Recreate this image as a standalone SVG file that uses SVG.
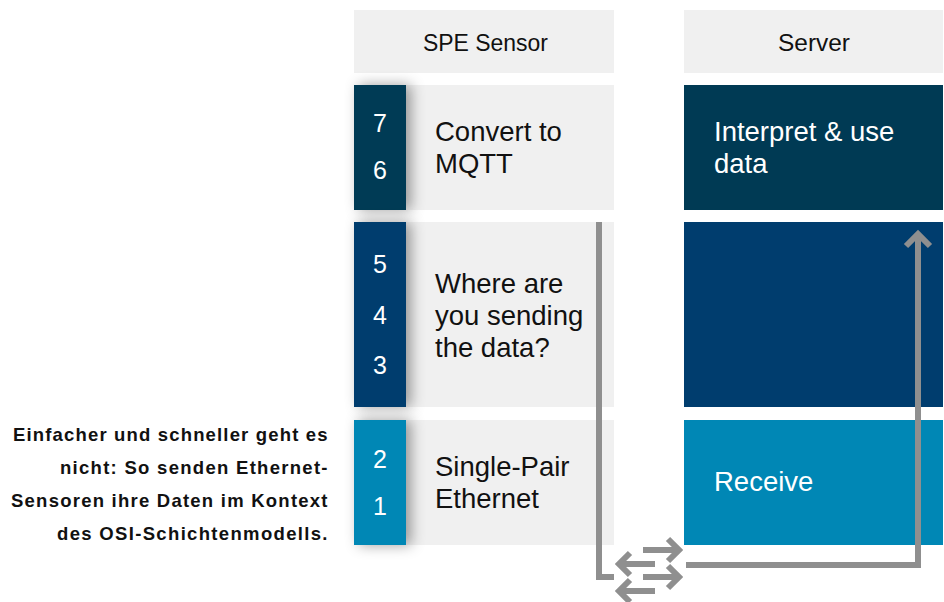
<svg xmlns="http://www.w3.org/2000/svg" width="944" height="602" viewBox="0 0 944 602">
<defs>
<filter id="sh" x="-60%" y="-25%" width="240%" height="150%"><feDropShadow dx="5" dy="0" stdDeviation="7" flood-color="#000" flood-opacity="0.38"/></filter>
</defs>
<style>
text{font-family:"Liberation Sans",Arial,sans-serif;}
.t{font-size:27.5px;fill:#111}
.w{font-size:27.5px;fill:#fff}
.h{font-size:24px;fill:#111;text-anchor:middle}
.n{font-size:25px;fill:#fff;text-anchor:middle}
.c{font-size:18.5px;font-weight:700;fill:#111;text-anchor:end}
.g{fill:#f0f0f0}
.a{fill:none;stroke:#8f8f8f;stroke-width:6}
</style>
<g id="caption">
<text class="c" x="327.500" y="441" textLength="314.500">Einfacher und schneller geht es</text>
<text class="c" x="327.500" y="474" textLength="267.500">nicht: So senden Ethernet-</text>
<text class="c" x="327.500" y="507" textLength="316.500">Sensoren ihre Daten im Kontext</text>
<text class="c" x="327.500" y="540" textLength="270.500">des OSI-Schichtenmodells.</text>
</g>
<g id="header-sensor"><rect class="g" x="354" y="10" width="260" height="63"/><text class="h" x="485.500" y="51" textLength="125" lengthAdjust="spacingAndGlyphs">SPE Sensor</text></g>
<g id="header-server"><rect class="g" x="684" y="10" width="259" height="63"/><text class="h" x="814" y="51" textLength="72" lengthAdjust="spacingAndGlyphs">Server</text></g>
<g id="sensor-76"><rect class="g" x="354" y="85" width="260" height="125"/><rect x="354" y="85" width="52" height="125" fill="#003a54" filter="url(#sh)"/>
<text class="n" x="380" y="132">7</text><text class="n" x="380" y="179">6</text>
<text class="t" x="435" y="141">Convert to</text><text class="t" x="435" y="173">MQTT</text></g>
<g id="sensor-543"><rect class="g" x="354" y="222" width="260" height="185"/><rect x="354" y="222" width="52" height="185" fill="#003d6e" filter="url(#sh)"/>
<text class="n" x="380" y="273">5</text><text class="n" x="380" y="324">4</text><text class="n" x="380" y="374">3</text>
<text class="t" x="435" y="293">Where are</text><text class="t" x="435" y="325">you sending</text><text class="t" x="435" y="357">the data?</text></g>
<g id="sensor-21"><rect class="g" x="354" y="420" width="260" height="125"/><rect x="354" y="420" width="52" height="125" fill="#0087b5" filter="url(#sh)"/>
<text class="n" x="380" y="468">2</text><text class="n" x="380" y="515">1</text>
<text class="t" x="435" y="476">Single-Pair</text><text class="t" x="435" y="508">Ethernet</text></g>
<g id="server-top"><rect x="684" y="85" width="259" height="125" fill="#003a54"/><text class="w" x="714" y="141">Interpret &amp; use</text><text class="w" x="714" y="173">data</text></g>
<g id="server-mid"><rect x="684" y="222" width="259" height="185" fill="#003d6e"/></g>
<g id="server-bottom"><rect x="684" y="420" width="259" height="125" fill="#0087b5"/><text class="w" x="714" y="491">Receive</text></g>
<g id="connectors">
<path class="a" d="M599 222V577H614"/>
<path class="a" d="M686 565H918V236"/>
<path class="a" d="M906 246L918 234L930 246"/>
<path class="a" d="M643 550H678M668 539L679 550L668 561"/>
<path class="a" d="M655 564H620M630 553L619 564L630 575"/>
<path class="a" d="M643 577H678M668 566L679 577L668 588"/>
<path class="a" d="M655 591H620M630 580L619 591L630 602"/>
</g>
</svg>
